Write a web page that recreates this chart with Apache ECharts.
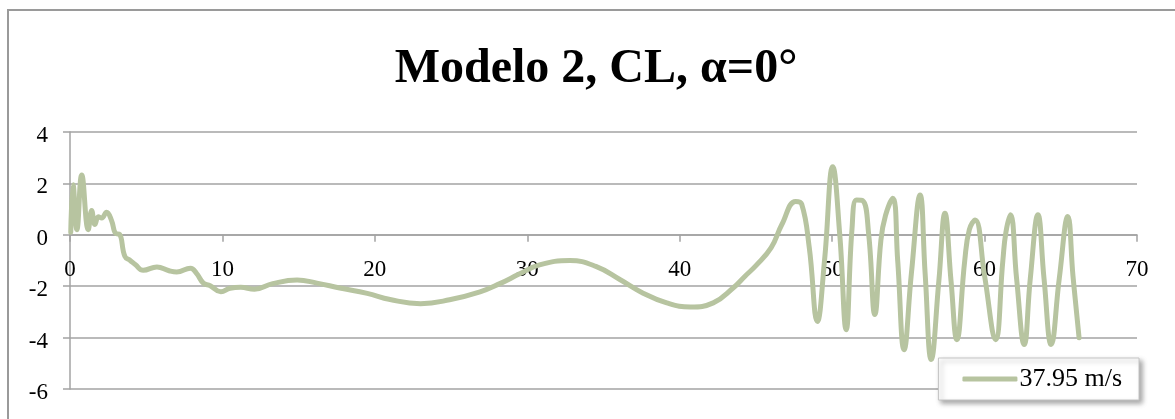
<!DOCTYPE html>
<html>
<head>
<meta charset="utf-8">
<script src="https://cdn.jsdelivr.net/npm/echarts@6/dist/echarts.min.js"></script>
<style>
html,body{margin:0;padding:0;background:#fff;}
#chart{width:1175px;height:419px;}
</style>
</head>
<body>
<div id="chart"></div>
<script>
var titleText = 'Modelo 2, CL, \u03b1=0\u00b0';
var seriesName = '37.95 m/s';
var xTicks = [0, 10, 20, 30, 40, 50, 60, 70];
var yTicks = [-6, -4, -2, 0, 2, 4];
var tValues = [0.05,0.2,0.45,0.77,1.2,1.42,1.64,1.86,2.08,2.4,2.73,3.0,3.25,3.6,3.95,4.3,4.8,5.7,6.5,7.0,7.9,8.3,8.75,9.2,9.9,10.5,11.2,12.1,13.3,14.9,16.2,17.7,19.5,21.0,23.0,24.9,26.9,28.2,29.5,30.8,32.8,34.5,36.1,37.6,39.15,40.7,42.2,43.5,44.3,45.0,46.0,46.7,47.6,48.0,48.5,49.03,49.5,50.04,50.5,50.92,51.3,51.6,52.0,52.4,52.8,53.2,53.5,53.98,54.3,54.72,55.2,55.77,56.1,56.5,57.0,57.4,57.8,58.18,58.7,59.0,59.38,60.0,60.72,61.2,61.4,61.7,62.1,62.6,63.0,63.5,63.9,64.37,64.9,65.46,65.8,66.2];
var clValues = [0.1,1.95,0.2,2.33,0.2,0.95,0.4,0.7,0.65,0.88,0.55,0.05,0.02,-0.84,-1.0,-1.17,-1.38,-1.25,-1.4,-1.45,-1.3,-1.5,-1.88,-1.98,-2.22,-2.08,-2.04,-2.12,-1.9,-1.76,-1.88,-2.07,-2.28,-2.52,-2.68,-2.53,-2.22,-1.9,-1.52,-1.17,-1.0,-1.23,-1.75,-2.27,-2.65,-2.81,-2.65,-2.07,-1.6,-1.2,-0.5,0.4,1.3,1.2,-0.5,-3.37,-1.0,2.65,0.0,-3.69,0.2,1.35,1.33,0.0,-3.1,-0.2,0.75,1.42,-1.0,-4.47,-1.5,1.55,-1.5,-4.85,-1.8,0.84,-1.8,-4.08,-1.0,0.2,0.58,-1.6,-4.08,-1.0,0.1,0.78,-1.7,-4.27,-1.7,0.78,-1.7,-4.27,-1.7,0.71,-1.6,-4.01];

var data = tValues.map(function(t, i){ return [t, clValues[i]]; });
var lineColor = '#b7c4a0';
var gridColor = '#a3a3a3';
var serif = '"Liberation Serif", "Times New Roman", serif';

var H = 419, gridTop = 132, gridBottom = 30;
var yMin = yTicks[0], yMax = yTicks[yTicks.length - 1];
// place the x axis where y = 0 crosses the plot
var plotH = H - gridTop - gridBottom;
var xAxisOffset = -plotH * (0 - yMin) / (yMax - yMin);

var chart = echarts.init(document.getElementById('chart'));
chart.setOption({
  animation: false,
  backgroundColor: '#fff',
  graphic: [{
    type: 'rect', z: -10, silent: true,
    shape: {x: 8, y: 10, width: 1300, height: 600},
    style: {fill: 'none', stroke: '#9a9a9a', lineWidth: 2}
  }],
  title: {
    text: titleText,
    left: 591, top: 41, textAlign: 'center',
    textStyle: {fontFamily: serif, fontSize: 48, fontWeight: 'bold', color: '#000'}
  },
  legend: {
    data: [{name: seriesName, icon: 'roundRect'}],
    right: 36, bottom: 19,
    padding: [8, 17, 8, 24],
    itemWidth: 55, itemHeight: 5, itemGap: 0,
    backgroundColor: '#fff',
    borderColor: '#c4c4c4', borderWidth: 1,
    shadowBlur: 5, shadowOffsetX: 3, shadowOffsetY: 3, shadowColor: 'rgba(0,0,0,0.35)',
    itemStyle: {color: lineColor},
    textStyle: {fontFamily: serif, fontSize: 26, color: '#000', padding: [0, 0, 0, -3]}
  },
  grid: {left: 70, right: 38, top: gridTop, bottom: gridBottom, containLabel: false, outerBoundsMode: 'none'},
  xAxis: {
    type: 'value', min: xTicks[0], max: xTicks[xTicks.length - 1], interval: 10,
    position: 'bottom', offset: xAxisOffset,
    axisLine: {show: true, onZero: false, lineStyle: {color: gridColor, width: 1.5}},
    axisTick: {show: true, inside: false, length: 7, lineStyle: {color: gridColor, width: 1.5}},
    axisLabel: {margin: 24, fontFamily: serif, fontSize: 23, color: '#000',
      formatter: function(v){ return xTicks.indexOf(v) >= 0 ? String(v) : ''; }},
    splitLine: {show: false}
  },
  yAxis: {
    type: 'value', min: yMin, max: yMax, interval: 2,
    axisLine: {show: true, onZero: false, lineStyle: {color: gridColor, width: 1.5}},
    axisTick: {show: true, inside: false, length: 7, lineStyle: {color: gridColor, width: 1.5}},
    axisLabel: {margin: 22, color: '#000',
      formatter: function(v){ return yTicks.indexOf(v) >= 0 ? '{a|' + v + '}' : ''; },
      rich: {a: {fontFamily: serif, fontSize: 23, color: '#000', padding: [8, 0, 0, 0]}}},
    splitLine: {show: true, lineStyle: {color: gridColor, width: 1.5}}
  },
  series: [{
    name: seriesName,
    type: 'line',
    data: data,
    smooth: 0.45,
    symbol: 'none',
    lineStyle: {color: lineColor, width: 5, cap: 'round', join: 'round'},
    itemStyle: {color: lineColor},
    z: 3
  }]
});
</script>
</body>
</html>
